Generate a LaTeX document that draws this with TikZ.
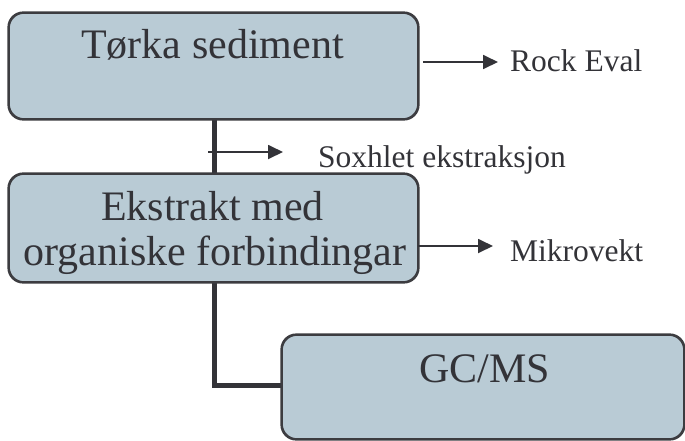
\documentclass[tikz,border=0pt]{standalone}
\usepackage{fontspec}
\setmainfont{Liberation Serif}
\usetikzlibrary{arrows.meta}
\definecolor{boxfill}{HTML}{B9CBD5}
\definecolor{boxline}{HTML}{3C3C40}
\definecolor{ink}{HTML}{333338}
\tikzset{
  boxnode/.style={draw=boxline, line width=1.6pt, fill=boxfill, rounded corners=15pt, inner sep=0pt},
  boxtext/.style={anchor=base, inner sep=0pt, text=ink, font=\fontsize{42}{48}\selectfont},
  lbl/.style={anchor=base west, inner sep=0pt, text=ink, font=\fontsize{31.5}{36}\selectfont},
  conn/.style={draw=ink, line width=5pt},
  arr/.style={draw=ink, line width=1.8pt, -{Triangle[length=15pt,width=14pt]}}
}
\begin{document}
\begin{tikzpicture}[x=1pt,y=-1pt]
\useasboundingbox (0,0) rectangle (685,440);
\fill[white] (0,0) rectangle (685,440);
% connectors (behind boxes)
\node[boxnode, minimum width=409pt, minimum height=106pt] (b1) at (213.5,66) {};
\node[boxnode, minimum width=409pt, minimum height=108pt] (b2) at (213.5,228) {};
\node[boxnode, minimum width=402pt, minimum height=104pt] (b3) at (483,387) {};
\begin{scope}[on background layer/.try]
\end{scope}
\draw[conn] ([xshift=0.5pt]b1.south) -- ([xshift=0.5pt]b2.north);
\draw[conn] ([xshift=0.5pt]b2.south) |- ([yshift=2pt]b3.west);
% redraw box borders on top of connector ends
\draw[draw=boxline, line width=1.6pt, rounded corners=15pt] (b1.south west) rectangle (b1.north east);
\draw[draw=boxline, line width=1.6pt, rounded corners=15pt] (b2.south west) rectangle (b2.north east);
\draw[draw=boxline, line width=1.6pt, rounded corners=15pt] (b3.south west) rectangle (b3.north east);
% box texts
\node[boxtext] (t1) at (212.5,58) {Tørka sediment};
\node[boxtext] (t2a) at (212.5,220) {Ekstrakt med};
\node[boxtext] (t2b) at (215,265) {organiske forbindingar};
\node[boxtext] (t3) at (485,382) {GC/MS};
% labels
\node[lbl] (rock) at (510,71) {Rock Eval};
\node[lbl] (sox) at (318,167) {Soxhlet ekstraksjon};
\node[lbl] (mikro) at (510,261) {Mikrovekt};
% arrows
\coordinate (sxs) at (208,152);
\coordinate (sxe) at (283,152);
\coordinate (res) at (423,62);
\coordinate (ree) at (498,62);
\coordinate (mis) at (418,246);
\coordinate (mie) at (493,246);
\draw[arr] (sxs) -- (sxe);
\draw[arr] (res) -- (ree);
\draw[arr] (mis) -- (mie);
\end{tikzpicture}
\end{document}
